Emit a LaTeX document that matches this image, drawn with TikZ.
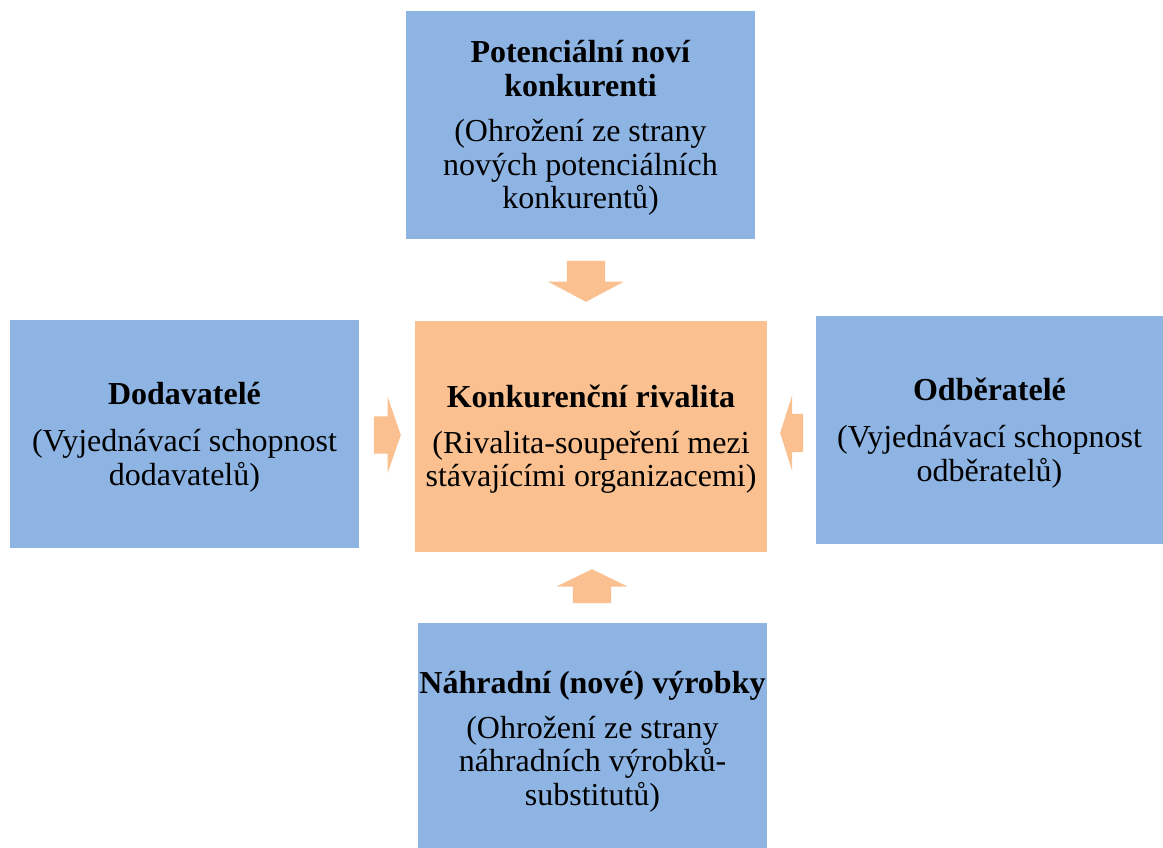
\documentclass[tikz,border=0pt]{standalone}
\usepackage{fontspec}
\setmainfont{Liberation Serif}
\usetikzlibrary{shapes.arrows}
\definecolor{forceblue}{HTML}{8EB4E3}
\definecolor{forceorange}{HTML}{FAC090}
\tikzset{
  forcebox/.style={fill=forceblue, draw=none, inner sep=0pt},
  corebox/.style={forcebox, fill=forceorange},
  boxtext/.style={inner sep=0pt, align=center, font=\fontsize{32}{33.5}\selectfont},
  blockarrow/.style={single arrow, fill=forceorange, draw=none, anchor=tip,
    inner xsep=0pt, single arrow head indent=0pt}
}
\begin{document}
\begin{tikzpicture}[x=1pt, y=-1pt]
\useasboundingbox (0,0) rectangle (1163,848);

% the five boxes
\node[forcebox, minimum width=349pt, minimum height=228pt] (entrants) at (580.5,125) {};
\node[forcebox, minimum width=349pt, minimum height=228pt] (suppliers) at (184.5,434) {};
\node[corebox, minimum width=352pt, minimum height=231pt] (rivalry) at (591,436.5) {};
\node[forcebox, minimum width=347pt, minimum height=228pt] (buyers) at (989.5,430) {};
\node[forcebox, minimum width=349pt, minimum height=238pt] (substitutes) at (592.5,742) {};

% their texts
\node[boxtext] (entrantsText) at ([yshift=-3pt]entrants.center)
  {\textbf{Potenciální noví}\\\textbf{konkurenti}\\[12pt](Ohrožení ze strany\\nových potenciálních\\konkurentů)};
\node[boxtext] (suppliersText) at ([yshift=-3pt]suppliers.center)
  {\textbf{Dodavatelé}\\[14pt](Vyjednávací schopnost\\dodavatelů)};
\node[boxtext] (rivalryText) at ([yshift=-3pt]rivalry.center)
  {\textbf{Konkurenční rivalita}\\[12pt](Rivalita-soupeření mezi\\stávajícími organizacemi)};
\node[boxtext] (buyersText) at ([yshift=-3pt]buyers.center)
  {\textbf{Odběratelé}\\[14pt](Vyjednávací schopnost\\odběratelů)};
\node[boxtext] (substitutesText) at (substitutes.center)
  {\textbf{Náhradní (nové) výrobky}\\[11pt](Ohrožení ze strany\\náhradních výrobků-\\substitutů)};

% block arrows pointing towards the rivalry box
\node[blockarrow, rotate=-90, inner ysep=19pt, minimum height=41pt,
  single arrow head extend=18.5pt, single arrow tip angle=124] (arrowtop) at (586,302) {};
\node[blockarrow, inner ysep=18.5pt, minimum height=27pt,
  single arrow head extend=19.5pt, single arrow tip angle=142] (arrowleft) at (401,435) {};
\node[blockarrow, rotate=180, inner ysep=19pt, minimum height=23pt,
  single arrow head extend=18.5pt, single arrow tip angle=145] (arrowright) at (780,433) {};
\node[blockarrow, rotate=90, inner ysep=19pt, minimum height=34pt,
  single arrow head extend=16.5pt, single arrow tip angle=128] (arrowbottom) at (592,569) {};
\end{tikzpicture}
\end{document}
